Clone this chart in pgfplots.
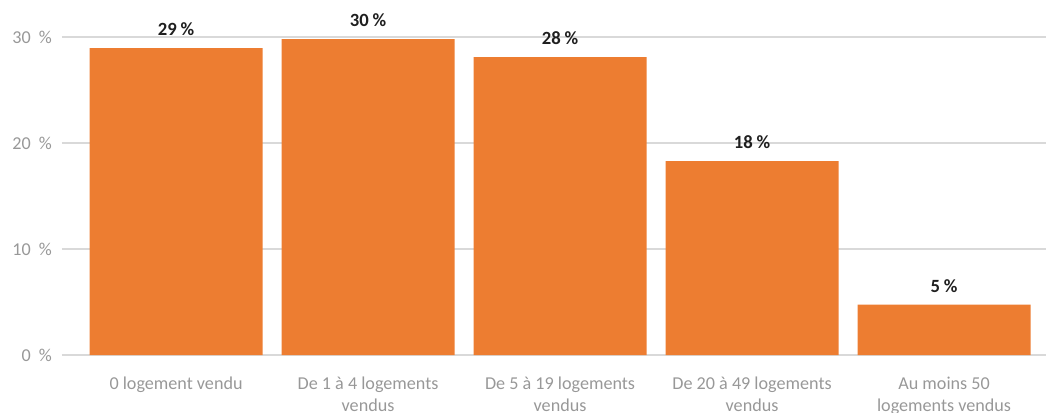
\documentclass[border=0pt]{standalone}
\usepackage{pgfplots}
\pgfplotsset{compat=1.18}
\usepackage{fontspec}
\setmainfont{Carlito}
\definecolor{barorange}{HTML}{ED7D31}
\definecolor{ticklab}{HTML}{989898}
\definecolor{gridc}{HTML}{D9D9D9}
\begin{document}
\begin{tikzpicture}
\begin{axis}[
  at={(46.5pt,42.75pt)}, anchor=south west,
  scale only axis,
  width=738pt, height=238.5pt,
  xmin=-0.594, xmax=4.531,
  ymin=0, ymax=30,
  clip=false,
  /pgf/number format/assume math mode=true,
  axis line style={draw=none},
  ytick={0,10,20,30},
  yticklabels={0\hspace{0.45em}\%,10\hspace{0.45em}\%,20\hspace{0.45em}\%,30\hspace{0.45em}\%},
  ymajorgrids,
  grid style={gridc, line width=0.9pt},
  major tick length=0pt,
  xtick={0,1,2,3,4},
  xticklabels={0 logement vendu,De 1 à 4 logements\\vendus,De 5 à 19 logements\\vendus,De 20 à 49 logements\\vendus,Au moins 50\\logements vendus},
  x tick label style={align=center, font=\fontsize{13.6pt}{16.5pt}\selectfont, text=ticklab, yshift=-13pt, anchor=north},
  y tick label style={font=\fontsize{13.6pt}{16.5pt}\selectfont, text=ticklab, xshift=-4pt},
  ybar, bar width=129.75pt,
  point meta=explicit symbolic,
  nodes near coords={\textbf{\pgfplotspointmeta\hspace{0.2em}\%}},
  nodes near coords style={font=\fontsize{14pt}{16pt}\selectfont, text=black!88, anchor=south, yshift=5.5pt},
]
\addplot[fill=barorange, draw=none] coordinates {
  (0,28.96) [29]
  (1,29.8) [30]
  (2,28.1) [28]
  (3,18.3) [18]
  (4,4.75) [5]
};
\end{axis}
\pgfresetboundingbox
\useasboundingbox (0,0) rectangle (784.5pt,309pt);
\end{tikzpicture}
\end{document}
